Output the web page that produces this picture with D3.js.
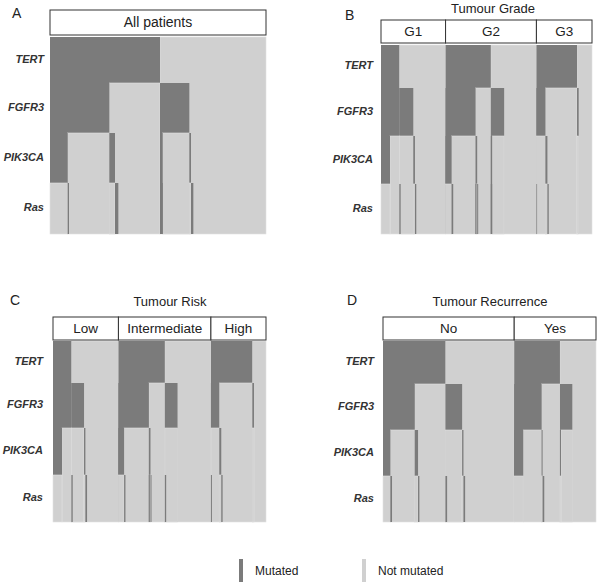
<!DOCTYPE html>
<html><head><meta charset="utf-8">
<script src="https://cdn.jsdelivr.net/npm/d3@7"></script>
<style>body{margin:0;background:#fff}svg{display:block}</style>
</head><body>
<svg id="c" width="600" height="584"></svg>
<script>
// Gene rows (top to bottom)
const genes = ["TERT", "FGFR3", "PIK3CA", "Ras"];
// Leaf order: TERT,FGFR3,PIK3CA,Ras states, M = mutated first, N = not mutated
// MMMM,MMMN,MMNM,MMNN, MNMM,MNMN,MNNM,MNNN, NMMM,NMMN,NMNM,NMNN, NNMM,NNMN,NNNM,NNNN
const allPatients  = [0,53,4,121, 0,17,10,125, 8,0,0,80, 0,5,7,218];
const gradeG1      = [0,27,0,28, 0,0,0,0, 0,0,4,38, 0,5,4,88];
const gradeG2      = [0,18,5,67, 3,2,3,38, 4,0,0,36, 0,0,0,97];
const gradeG3      = [0,0,2,25, 0,6,4,85, 0,0,0,5, 0,0,0,40];
const riskLow      = [0,27,0,28, 0,0,0,0, 0,0,4,34, 0,4,5,94];
const riskInter    = [0,17,4,70, 3,2,3,40, 0,0,4,34, 0,0,0,100];
const riskHigh     = [0,0,3,22, 0,6,4,89, 0,0,0,5, 0,0,0,36];
const recurNo      = [0,22,5,68, 0,10,4,78, 0,0,5,45, 0,4,5,147];
const recurYes     = [0,27,0,55, 0,3,5,47, 0,3,0,34, 0,0,0,71];

const panelLetters = ["A", "B", "C", "D"];
const panelTitles = ["", "Tumour Grade", "Tumour Risk", "Tumour Recurrence"];
const groupNames = [["All patients"], ["G1", "G2", "G3"], ["Low", "Intermediate", "High"], ["No", "Yes"]];
const groupData = [[allPatients], [gradeG1, gradeG2, gradeG3], [riskLow, riskInter, riskHigh], [recurNo, recurYes]];
const legendLabels = ["Mutated", "Not mutated"];

const DARK = "#7b7b7b", LIGHT = "#d0d0d0", EDGE = "#e2e2e2", TEXT = "#222";
const layouts = [
  {x0: 50, x1: 266, hy0: 10, hy1: 35, rows: [37, 83, 133, 183, 234], labelX: 44, letter: [12, 18], title: null},
  {x0: 381, x1: 592, hy0: 20, hy1: 43, rows: [45, 88, 136, 184, 234], labelX: 373, letter: [345, 20], title: [493, 13]},
  {x0: 53, x1: 266, hy0: 317, hy1: 340, rows: [341, 383, 428, 475, 522], labelX: 43, letter: [10, 305], title: [170, 306]},
  {x0: 383, x1: 596, hy0: 317, hy1: 340, rows: [341, 384, 430, 476, 522], labelX: 374, letter: [347, 305], title: [490, 306]}
];

const svg = d3.select("#c");
const font = "'Liberation Sans', Arial, sans-serif";

layouts.forEach((L, p) => {
  const g = svg.append("g");
  const groups = groupData[p];
  const totals = groups.map(d => d3.sum(d));
  const cum = [0]; totals.forEach(t => cum.push(cum[cum.length - 1] + t));
  const x = d3.scaleLinear().domain([0, cum[cum.length - 1]]).range([L.x0, L.x1]);
  const y = d3.scaleOrdinal().domain(d3.range(5)).range(L.rows);

  // nested mosaic nodes: each node spans from its gene row down to the bottom
  const nodes = [];
  groups.forEach((leaves, gi) => {
    for (let lvl = 0; lvl < 4; lvl++) {
      const size = 16 >> (lvl + 1);
      let start = cum[gi];
      for (let k = 0; k < (2 << lvl); k++) {
        const w = d3.sum(leaves.slice(k * size, (k + 1) * size));
        const mut = (k % 2 === 0);
        const parentMut = lvl === 0 ? null : (Math.floor(k / 2) % 2 === 0);
        nodes.push({lvl, mut, parentMut, a: start, b: start + w});
        start += w;
      }
    }
  });
  // a not-mutated node under a not-mutated parent is already covered by the parent
  const drawn = nodes.filter(n => n.b > n.a && !(n.lvl > 0 && !n.mut && n.parentMut === false));
  drawn.sort((m, n) => (m.lvl - n.lvl) || ((m.mut ? 1 : 0) - (n.mut ? 1 : 0)));
  g.selectAll("rect.cell").data(drawn).join("rect")
    .attr("class", "cell")
    .attr("x", d => x(d.a)).attr("width", d => x(d.b) - x(d.a))
    .attr("y", d => y(d.lvl)).attr("height", d => y(4) - y(d.lvl))
    .attr("fill", d => d.mut ? DARK : LIGHT)
    .attr("stroke", d => d.mut ? "none" : EDGE)
    .attr("stroke-width", 0.6);

  // header boxes
  groups.forEach((leaves, gi) => {
    g.append("rect").attr("x", x(cum[gi])).attr("y", L.hy0)
      .attr("width", x(cum[gi + 1]) - x(cum[gi])).attr("height", L.hy1 - L.hy0)
      .attr("fill", "#fff").attr("stroke", "#333").attr("stroke-width", 1);
    g.append("text").attr("x", (x(cum[gi]) + x(cum[gi + 1])) / 2).attr("y", (L.hy0 + L.hy1) / 2 + 1)
      .attr("text-anchor", "middle").attr("dominant-baseline", "middle")
      .attr("font-family", font).attr("font-size", p === 0 ? 14 : 13.5).attr("fill", TEXT)
      .text(groupNames[p][gi]);
  });

  // gene labels
  genes.forEach((gn, i) => {
    g.append("text").attr("x", L.labelX).attr("y", (y(i) + y(i + 1)) / 2)
      .attr("text-anchor", "end").attr("dominant-baseline", "middle")
      .attr("font-family", font).attr("font-size", 11).attr("font-weight", "bold")
      .attr("font-style", "italic").attr("fill", "#333").text(gn);
  });

  g.append("text").attr("x", L.letter[0]).attr("y", L.letter[1])
    .attr("font-family", font).attr("font-size", 14).attr("fill", TEXT).text(panelLetters[p]);
  if (L.title) {
    g.append("text").attr("x", L.title[0]).attr("y", L.title[1]).attr("text-anchor", "middle")
      .attr("font-family", font).attr("font-size", 13).attr("fill", TEXT).text(panelTitles[p]);
  }
});

// legend
const lg = svg.append("g");
[[239, DARK], [362, LIGHT]].forEach((d, i) => {
  lg.append("rect").attr("x", d[0]).attr("y", 559).attr("width", 4).attr("height", 23).attr("fill", d[1]);
  lg.append("text").attr("x", d[0] + 16).attr("y", 572).attr("dominant-baseline", "middle")
    .attr("font-family", font).attr("font-size", 12).attr("fill", TEXT).text(legendLabels[i]);
});
</script>
</body></html>
